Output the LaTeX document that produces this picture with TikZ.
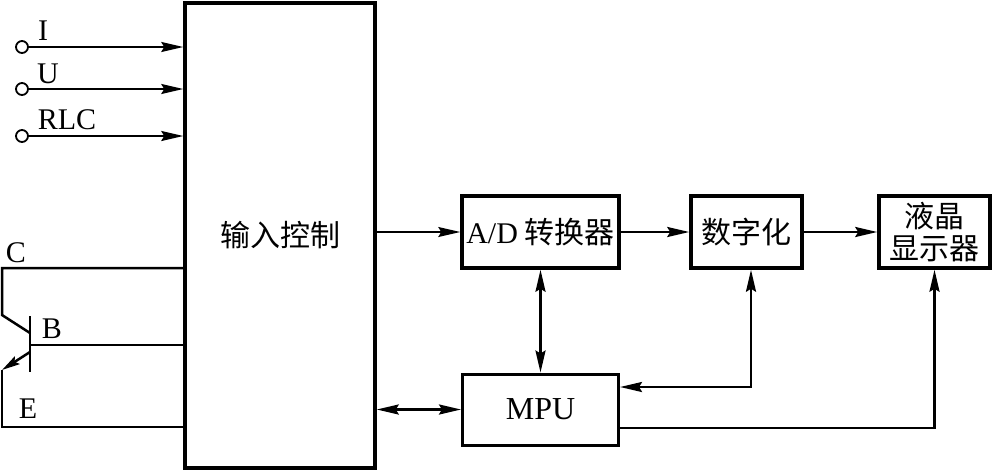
\documentclass[tikz,border=0pt]{standalone}
\usepackage{fontspec}
\setmainfont{Liberation Serif}
\newfontfamily\cjk{Noto Sans CJK SC}
\usetikzlibrary{arrows.meta}

\begin{document}
\begin{tikzpicture}[x=1pt,y=-1pt,
		blk/.style={draw,line width=3.5pt,inner sep=0pt,font=\cjk\fontsize{30}{32}\selectfont},
		lbl/.style={inner sep=0pt,font=\fontsize{30}{32}\selectfont},
		term/.style={draw,circle,line width=1.8pt,minimum size=12pt,inner sep=0pt},
		wire/.style={line width=2.5pt},
		tip/.style={-{Stealth[length=22pt,width=10pt,inset=3pt]}},
		tips/.style={{Stealth[length=22pt,width=10pt,inset=3pt]}-{Stealth[length=22pt,width=10pt,inset=3pt]}}]
		\useasboundingbox (0,0) rectangle (992,472);
		\node[blk,minimum width=190pt,minimum height=465pt] (ctrl) at (280,235.5){输入控制};
		\node[blk,minimum width=157pt,minimum height=72pt] (ad) at (540.5,232){{\rmfamily A/D} 转换器};
		\node[blk,minimum width=111pt,minimum height=72pt] (dig) at (746.5,232){数字化};
		\node[blk,minimum width=111pt,minimum height=72pt,align=center] (lcd) at (934.5,232){液晶\\显示器};
		\node[blk,line width=3pt,minimum width=156pt,minimum height=71pt,font=\fontsize{32}{34}\selectfont] (mpu) at (540.5,409.5){MPU};
		\node[term] (tI) at (22,47){};
		\node[term] (tU) at (22,89){};
		\node[term] (tR) at (22,136){};
		\node[lbl] (lI) at (43,31){I};
		\node[lbl] (lU) at (48,74){U};
		\node[lbl] (lR) at (67,120){RLC};
		\node[lbl] (lC) at (16,253){C};
		\node[lbl] (lB) at (52,329){B};
		\node[lbl] (lE) at (28,409){E};
		\draw[tip,line width=2pt] (tI) -- (tI -| ctrl.west);
		\draw[tip,line width=2pt] (tU) -- (tU -| ctrl.west);
		\draw[tip,line width=2pt] (tR) -- (tR -| ctrl.west);
		\coordinate (cT) at (2,268);
		\coordinate (cK) at (2,315);
		\coordinate (bT) at (30,316);
		\coordinate (bB) at (30,372);
		\coordinate (bM) at (30,345);
		\coordinate (eK) at (2,370);
		\coordinate (eT) at (2,427);
		\draw[wire] (ctrl.west |- cT) -- (cT) -- (cK) -- (30,333);
		\draw[line width=2pt] (bT) -- (bB);
		\draw[wire] (bM) -- (ctrl.west |- bM);
		\draw[wire,-{Stealth[length=18pt,width=9pt,inset=3pt]}] (30,352) -- (eK);
		\draw[wire] (eK) -- (eT) -- (ctrl.west |- eT);
		\draw[tip,line width=1.3pt] (ctrl.east |- ad) -- (ad.west);
		\draw[tip,wire] (ad.east) -- (dig.west);
		\draw[tip,wire] (dig.east) -- (lcd.west);
		\draw[tips,wire] (ad.south) -- (ad.south |- mpu.north);
		\draw[tips,wire] (ctrl.east |- mpu) -- (mpu.west);
		\draw[tips,wire] ([yshift=22.5pt]mpu.east) -| ([xshift=4.5pt]dig.south);
		\draw[tip,wire] ([yshift=-18.5pt]mpu.east) -| (lcd.south);
	\end{tikzpicture}
\end{document}
